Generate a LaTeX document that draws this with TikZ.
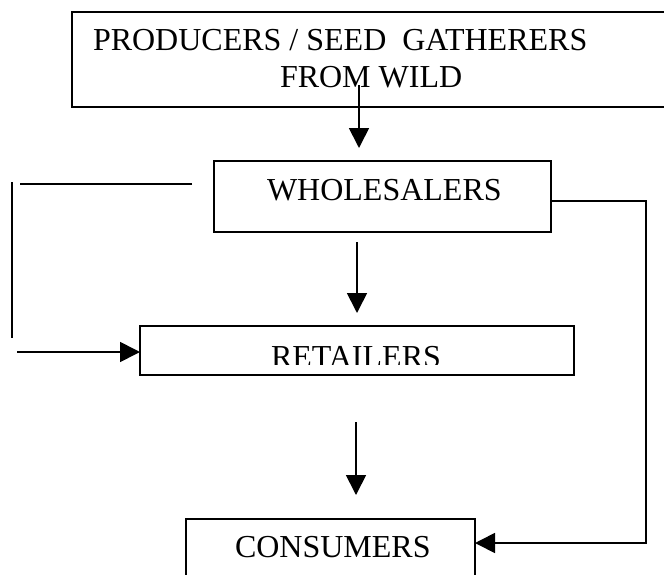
\documentclass[tikz,border=0pt]{standalone}
\usepackage{fontspec}
\setmainfont{Liberation Serif}
\usetikzlibrary{arrows.meta}

\begin{document}
\begin{tikzpicture}[x=1pt,y=-1pt,
  boxshape/.style={rectangle,inner sep=0pt,outer sep=0pt},
  framed/.style={boxshape,draw,line width=1.8pt},
  label/.style={inner sep=0pt,outer sep=0pt,anchor=base west,
    font=\fontsize{32}{38}\selectfont},
  wire/.style={line width=1.7pt},
  flow/.style={wire,-{Triangle[length=20pt,width=20pt]}}]

\useasboundingbox (0,0) rectangle (664,574);

% boxes
\node[boxshape,minimum width=592pt,minimum height=95pt] (prod) at (368,59.5) {};
\draw[line width=1.8pt] (prod.north east) -- (prod.north west)
  -- (prod.south west) -- (prod.south east);
\node[framed,minimum width=337pt,minimum height=71pt] (whole) at (382.5,196.5) {};
\node[framed,minimum width=434pt,minimum height=49pt] (ret) at (357,350.5) {};
\node[boxshape,minimum width=289pt,minimum height=57pt] (cons) at (330.5,547.5) {};
\draw[line width=1.8pt] (cons.south west) -- (cons.north west)
  -- (cons.north east) -- (cons.south east);

% texts
\node[label] (prodA) at (93,50) {PRODUCERS / SEED~ GATHERERS};
\node[label] (prodB) at (280,87) {FROM WILD};
\node[label] (wholeT) at (267,200) {WHOLESALERS};
\begin{scope}
  \clip (140,330) rectangle (574,364);
  \node[label] (retT) at (271,367) {RETAILERS};
\end{scope}
\node[label] (consT) at (235,557) {CONSUMERS};

% vertical flow
\draw[flow,shorten >=13pt] ([xshift=-9pt,yshift=22pt]prod.south) coordinate (p1)
  -- (p1 |- whole.north);
\draw[flow,shorten <=10pt,shorten >=13pt] ([xshift=-25.5pt]whole.south) coordinate (p2)
  -- (p2 |- ret.north);
\draw[flow,shorten <=47pt,shorten >=24pt] ([xshift=-1pt]ret.south) coordinate (p3)
  -- (p3 |- cons.north);

% wholesalers to retailers, round the left side
\draw[wire] ([xshift=-22pt,yshift=12.5pt]whole.west) coordinate (l0) -- (20,184);
\coordinate (lt) at (12,182);
\coordinate (lb) at (12,338);
\draw[wire] (lt) -- (lb);
\coordinate (tail) at (17,352);
\draw[flow] (tail) -- (tail -| ret.west);

% wholesalers to consumers, round the right side
\coordinate (rc) at (646,543);
\draw[flow] ([yshift=-4.5pt]whole.east) -| (rc) -- (rc -| cons.east);

\end{tikzpicture}
\end{document}
